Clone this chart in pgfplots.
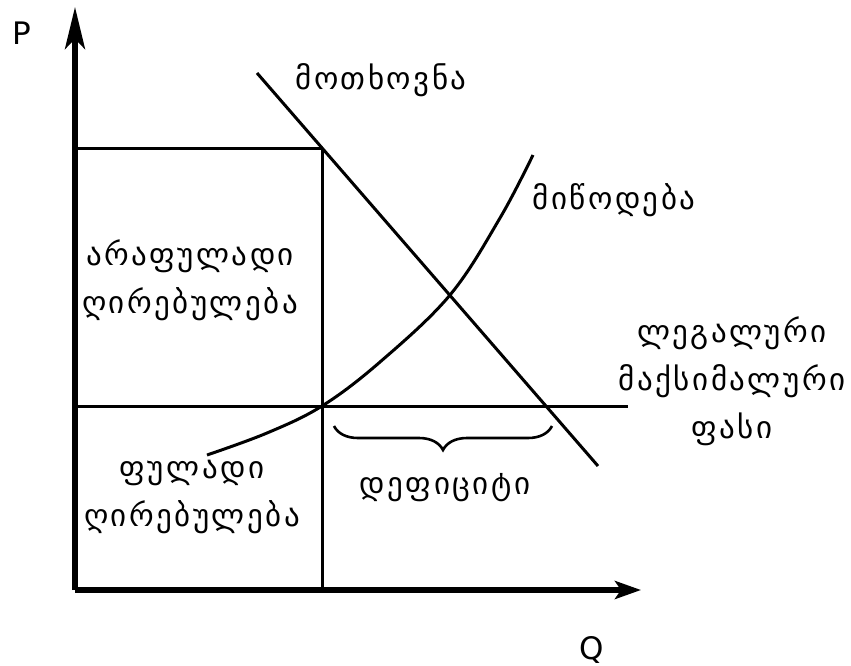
\documentclass[border=0pt]{standalone}
\usepackage{pgfplots}
\pgfplotsset{compat=1.18}
\usepackage{fontspec}
\setmainfont{DejaVu Sans}
\newfontfamily\geo[LetterSpace=8]{DejaVu Sans}
\usetikzlibrary{arrows.meta,decorations.pathreplacing}
\begin{document}
\begin{tikzpicture}
\begin{axis}[
    scale only axis,
    width=425.5pt, height=332.5pt, % 1 px = 0.5 pt
    xmin=0, xmax=851, ymin=0, ymax=665,
    y dir=reverse,
    hide axis,
    clip=false,
    cycle list={{black, solid}},
    every axis plot/.append style={no marks, line width=1.5pt},
    ]
% axes
\addplot[black, line width=2.6pt, -{Stealth[length=21pt, width=10pt, inset=5pt]}] coordinates {(75,590) (75,7)};
\addplot[black, line width=2.6pt, -{Stealth[length=13pt, width=9pt, inset=3pt]}] coordinates {(75,590) (641,590)};
% price ceiling and helper lines
\addplot[black] coordinates {(75,406) (628,406)};
\addplot[black] coordinates {(75,148) (322,148)};
\addplot[black] coordinates {(322,148) (322,590)};
% demand
\addplot[black] coordinates {(257,73) (598,466)};
% supply
\addplot[black, smooth, tension=0.6] coordinates {(207,455) (267,433) (322,406) (380,362) (450,295) (500,218) (533,155)};
% shortage brace
\addplot[black, line width=1.3pt, decorate, decoration={brace, mirror, amplitude=12pt}] coordinates {(334,426) (552,426)};
% labels
\node[font=\fontsize{15.5}{24}\selectfont] at (axis cs:22,33) {P};
\node[font=\fontsize{15.5}{24}\selectfont] at (axis cs:592,650) {Q};
\node[font=\fontsize{15.5}{24}\selectfont\geo] at (axis cs:381,80) {მოთხოვნა};
\node[font=\fontsize{15.5}{24}\selectfont\geo] at (axis cs:614,200) {მიწოდება};
\node[font=\fontsize{15.5}{24}\selectfont\geo, align=center] at (axis cs:190,280) {არაფულადი\\ღირებულება};
\node[font=\fontsize{15.5}{24}\selectfont\geo, align=center] at (axis cs:192,497) {ფულადი\\ღირებულება};
\node[font=\fontsize{15.5}{24}\selectfont\geo] at (axis cs:445,488) {დეფიციტი};
\node[font=\fontsize{15.5}{24}\selectfont\geo, align=center] at (axis cs:732,381) {ლეგალური\\მაქსიმალური\\ფასი};
\end{axis}
\pgfresetboundingbox
\useasboundingbox (current axis.south west) rectangle (current axis.north east);
\end{tikzpicture}
\end{document}
